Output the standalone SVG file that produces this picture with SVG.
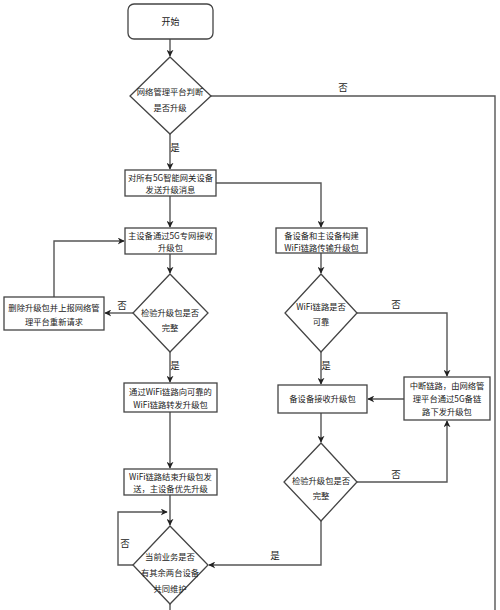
<svg xmlns="http://www.w3.org/2000/svg" width="500" height="610" viewBox="0 0 500 610">
<defs>
<marker id="ah" viewBox="0 0 10 10" refX="9" refY="5" markerWidth="7" markerHeight="7" orient="auto" markerUnits="userSpaceOnUse">
<path d="M0,0 L10,5 L0,10 L3,5 Z" fill="#222"/>
</marker>
<style>
.n{fill:#fff;stroke:#444;stroke-width:1.3}
.c{fill:none;stroke:#555;stroke-width:1.4}
text{font-family:"Noto Sans CJK SC","Liberation Sans",sans-serif;font-size:8.3px;fill:#222;text-anchor:middle}
.l{font-size:9.5px}
</style>
</defs>
<rect width="500" height="610" fill="#fff"/>
<g id="connectors">
<path class="c" d="M170,39 V56" marker-end="url(#ah)"/>
<path class="c" d="M211,96 H495 V610"/>
<path class="c" d="M170,134 V169" marker-end="url(#ah)"/>
<path class="c" d="M170,196 V227" marker-end="url(#ah)"/>
<path class="c" d="M216,183 H321 V227" marker-end="url(#ah)"/>
<path class="c" d="M170,254 V273" marker-end="url(#ah)"/>
<path class="c" d="M133,313 H105" marker-end="url(#ah)"/>
<path class="c" d="M54,297 V241 H124" marker-end="url(#ah)"/>
<path class="c" d="M170,352 V382" marker-end="url(#ah)"/>
<path class="c" d="M170,412 V468" marker-end="url(#ah)"/>
<path class="c" d="M170,495 V525" marker-end="url(#ah)"/>
<path class="c" d="M133,565 H118 V512 H167" marker-end="url(#ah)"/>
<path class="c" d="M170,604 V610"/>
<path class="c" d="M321,253 V273" marker-end="url(#ah)"/>
<path class="c" d="M357,313 H447 V376" marker-end="url(#ah)"/>
<path class="c" d="M321,352 V384" marker-end="url(#ah)"/>
<path class="c" d="M404,399 H368" marker-end="url(#ah)"/>
<path class="c" d="M321,413 V442" marker-end="url(#ah)"/>
<path class="c" d="M357,482 H447 V421" marker-end="url(#ah)"/>
<path class="c" d="M321,521 V565 H209" marker-end="url(#ah)"/>
</g>
<g id="labels">
<text class="l" x="343" y="91">否</text>
<text class="l" x="175" y="151">是</text>
<text class="l" x="122" y="309">否</text>
<text class="l" x="175" y="369">是</text>
<text class="l" x="396" y="308">否</text>
<text class="l" x="326" y="369">是</text>
<text class="l" x="396" y="478">否</text>
<text class="l" x="275" y="559">是</text>
<text class="l" x="125" y="547">否</text>
</g>
<g id="start">
<rect class="n" x="128" y="4" width="85" height="35" rx="6"/>
<text x="170.5" y="25" style="font-size:9px">开始</text>
</g>
<g id="d1">
<polygon class="n" points="170,57 211,96 170,134 130,96"/>
<text x="170" y="95">网络管理平台判断</text>
<text x="170" y="111">是否升级</text>
</g>
<g id="b2">
<rect class="n" x="125" y="170" width="91" height="26"/>
<text x="170.5" y="181">对所有5G智能网关设备</text>
<text x="170.5" y="193">发送升级消息</text>
</g>
<g id="b3">
<rect class="n" x="125" y="228" width="91" height="26"/>
<text x="170.5" y="239">主设备通过5G专网接收</text>
<text x="170.5" y="251">升级包</text>
</g>
<g id="b4">
<rect class="n" x="276" y="228" width="91" height="25"/>
<text x="321.5" y="239">备设备和主设备构建</text>
<text x="321.5" y="251">WiFi链路传输升级包</text>
</g>
<g id="d2">
<polygon class="n" points="170,274 208,313 170,352 133,313"/>
<text x="170" y="316">检验升级包是否</text>
<text x="170" y="331">完整</text>
</g>
<g id="b5">
<rect class="n" x="4" y="297" width="100" height="33"/>
<text x="54" y="311">删除升级包并上报网络管</text>
<text x="54" y="325">理平台重新请求</text>
</g>
<g id="d3">
<polygon class="n" points="321,274 357,313 321,352 285,313"/>
<text x="321" y="310">WiFi链路是否</text>
<text x="321" y="325">可靠</text>
</g>
<g id="b6">
<rect class="n" x="124" y="383" width="93" height="29"/>
<text x="170.5" y="395">通过WiFi链路向可靠的</text>
<text x="170.5" y="408">WiFi链路转发升级包</text>
</g>
<g id="b7">
<rect class="n" x="404" y="377" width="86" height="43"/>
<text x="447" y="389">中断链路，由网络管</text>
<text x="447" y="402">理平台通过5G备链</text>
<text x="447" y="415">路下发升级包</text>
</g>
<g id="b8">
<rect class="n" x="278" y="385" width="89" height="28"/>
<text x="322.5" y="402">备设备接收升级包</text>
</g>
<g id="d4">
<polygon class="n" points="321,443 357,482 321,521 284,482"/>
<text x="321" y="484">检验升级包是否</text>
<text x="321" y="499">完整</text>
</g>
<g id="b9">
<rect class="n" x="124" y="469" width="93" height="26"/>
<text x="170.5" y="480">WiFi链路结束升级包发</text>
<text x="170.5" y="492">送，主设备优先升级</text>
</g>
<g id="d5">
<polygon class="n" points="170,526 208,565 170,604 133,565"/>
<text x="170" y="560">当前业务是否</text>
<text x="170" y="576">有其余两台设备</text>
<text x="170" y="592">共同维护</text>
</g>
</svg>
